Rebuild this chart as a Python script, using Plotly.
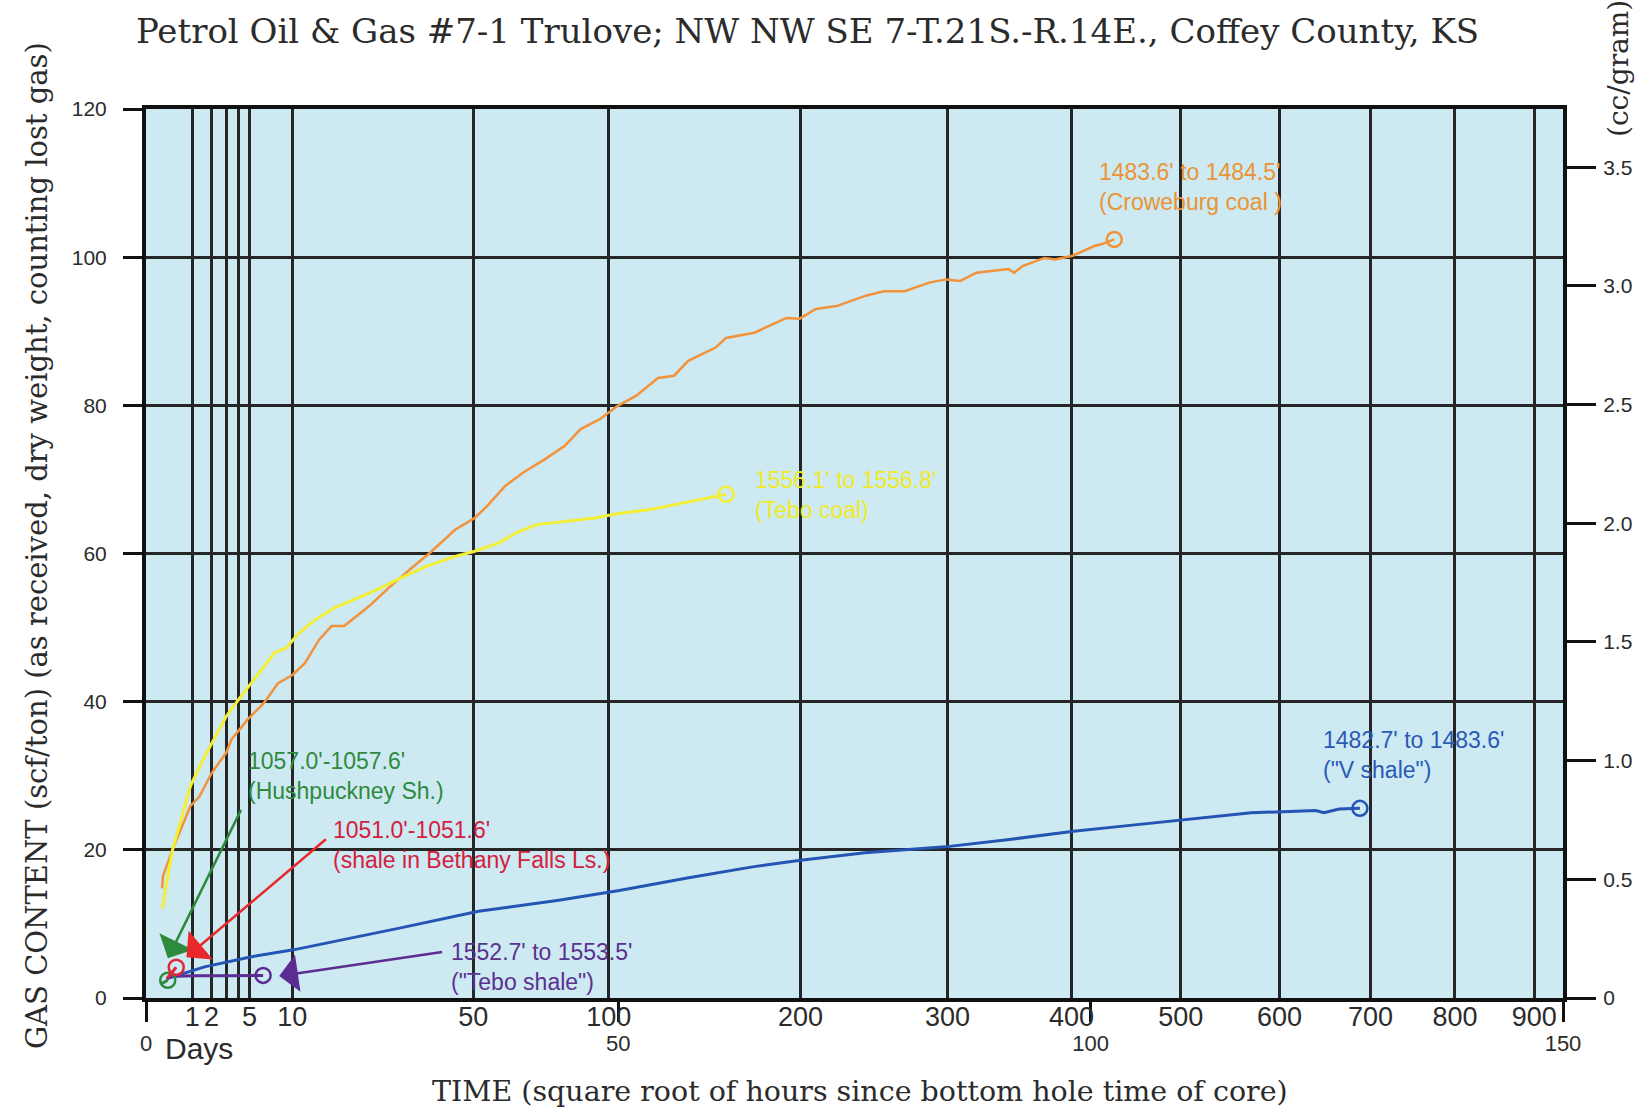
import math
import plotly.graph_objects as go

# unit conversion between the two gas-content scales
SCF_PER_TON_PER_CC_PER_G = 32.04

# x-axis: square root of hours, with a second row of labels in days
root_hour_ticks = [0, 50, 100, 150]
day_marks = [1, 2, 3, 4, 5, 10, 50, 100, 200, 300, 400, 500, 600, 700, 800, 900]
day_labels = ["1", "2", "", "", "5", "10", "50", "100", "200", "300", "400",
              "500", "600", "700", "800", "900"]

# y-axes
gas_ticks = [0, 20, 40, 60, 80, 100, 120]
cc_ticks = [0, 0.5, 1.0, 1.5, 2.0, 2.5, 3.0, 3.5]
cc_labels = ["0", "0.5", "1.0", "1.5", "2.0", "2.5", "3.0", "3.5"]

# 1483.6' to 1484.5' (Croweburg coal)
crow_x = [1.7, 1.8, 2.8, 4.7, 5.65, 6.97, 8.49, 9.05, 10.76, 12.46, 13.98, 15.5,
          16.82, 18.34, 19.65, 20.98, 23.63, 25.9, 28.17, 30.07, 32.72, 34.8, 36.1,
          38.0, 39.9, 42.2, 44.3, 46.0, 48.0, 49.9, 51.9, 54.2, 55.9, 57.4, 60.3,
          61.4, 64.4, 67.8, 69.2, 70.9, 73.1, 76.2, 78.1, 80.3, 83.0, 84.7, 86.2,
          87.9, 91.3, 91.9, 92.8, 95.1, 96.2, 98.1, 100.4, 101.3, 102.5]
crow_y = [14.8, 16.5, 20.0, 25.9, 27.2, 30.4, 33.1, 34.9, 37.6, 39.8, 42.5, 43.6,
          45.2, 48.4, 50.2, 50.2, 52.9, 55.6, 58.1, 60.1, 63.2, 64.8, 66.4,
          69.1, 70.9, 72.7, 74.5, 76.8, 78.1, 79.9, 81.3, 83.7, 84.0, 86.0, 87.8,
          89.1, 89.8, 91.8, 91.7, 93.0, 93.4, 94.8, 95.4, 95.4, 96.6, 97.0, 96.8,
          97.9, 98.4, 97.9, 98.8, 99.9, 99.7, 100.2, 101.5, 101.8, 102.4]

# 1556.1' to 1556.8' (Tebo coal)
tebo_coal_x = [1.75, 2.06, 2.81, 3.95, 4.71, 5.84, 6.97, 8.49, 9.81, 11.14, 13.6,
               14.9, 16.06, 17.95, 20.0, 22.1, 24.4, 27.0, 29.7, 32.7, 34.8, 37.3,
               39.5, 41.4, 44.8, 47.5, 50.0, 53.2, 56.0, 58.8, 61.4]
tebo_coal_y = [12.1, 14.6, 20.0, 25.0, 28.6, 31.7, 34.4, 38.0, 40.3, 42.5, 46.6,
               47.3, 49.1, 51.1, 52.7, 53.8, 55.1, 56.7, 58.3, 59.6, 60.3, 61.4,
               63.0, 63.9, 64.4, 64.8, 65.4, 65.9, 66.6, 67.3, 68.0]

# 1482.7' to 1483.6' ("V shale")
v_shale_x = [2.2, 2.4, 6.2, 11.3, 15.6, 20.7, 26.7, 35.2, 43.7, 50.1, 57.3, 64.2,
             69.3, 76.1, 84.6, 91.4, 98.2, 103.4, 110.2, 117.0, 123.8, 124.7,
             126.3, 128.5]
v_shale_y = [2.5, 2.7, 4.2, 5.6, 6.5, 7.8, 9.4, 11.7, 13.2, 14.5, 16.2, 17.7,
             18.6, 19.6, 20.4, 21.4, 22.5, 23.2, 24.1, 25.0, 25.3, 25.0, 25.5, 25.6]

# 1057.0'-1057.6' (Hushpuckney Sh.)
hush_x = [1.6, 2.0, 2.3]
hush_y = [1.9, 2.2, 2.4]

# 1051.0'-1051.6' (shale in Bethany Falls Ls.)
bethany_x = [2.2, 2.7, 3.2]
bethany_y = [2.6, 3.4, 4.15]

# 1552.7' to 1553.5' ("Tebo shale")
tebo_shale_x = [2.3, 5.0, 9.0, 12.4]
tebo_shale_y = [2.9, 3.0, 3.0, 3.05]

SANS = "Liberation Sans, Arial, sans-serif"
SERIF = "DejaVu Serif, serif"
INK = "#2b2b2b"
GRID = "#262626"

series = [
    (crow_x, crow_y, "#f2923a", 2.5),
    (tebo_coal_x, tebo_coal_y, "#f3ee36", 3),
    (v_shale_x, v_shale_y, "#2455b4", 3),
    (tebo_shale_x, tebo_shale_y, "#5b2c91", 3),
    (hush_x, hush_y, "#2e8a3c", 3),
    (bethany_x, bethany_y, "#e0283a", 3),
]

fig = go.Figure()
for xs, ys, color, width in series:
    fig.add_trace(go.Scatter(x=xs, y=ys, mode="lines",
                             line=dict(color=color, width=width),
                             showlegend=False, hoverinfo="skip"))
    fig.add_trace(go.Scatter(x=[xs[-1]], y=[ys[-1]], mode="markers",
                             marker=dict(symbol="circle-open", size=15,
                                         color=color, line=dict(width=2.5)),
                             showlegend=False, hoverinfo="skip"))

# invisible anchors so the day axis and the cc/gram axis are rendered
fig.add_trace(go.Scatter(x=[0], y=[0], xaxis="x2", yaxis="y", mode="markers",
                         marker=dict(opacity=0), showlegend=False, hoverinfo="skip"))
fig.add_trace(go.Scatter(x=[0], y=[0], xaxis="x", yaxis="y2", mode="markers",
                         marker=dict(opacity=0), showlegend=False, hoverinfo="skip"))

# sample labels: (x, y, text, color)
sample_labels = [
    (100.7, 109.5, "1483.6' to 1484.5'<br>(Croweburg coal )", "#ea9435"),
    (64.3, 67.9, "1556.1' to 1556.8'<br>(Tebo coal)", "#efe92c"),
    (124.4, 32.8, "1482.7' to 1483.6'<br>(\"V shale\")", "#2a5ab6"),
    (10.6, 29.9, "1057.0'-1057.6'<br>(Hushpuckney Sh.)", "#2f8a3e"),
    (19.6, 20.6, "1051.0'-1051.6'<br>(shale in Bethany Falls Ls.)", "#d4203e"),
    (32.1, 4.2, "1552.7' to 1553.5'<br>(\"Tebo shale\")", "#5b3190"),
]
for x, y, text, color in sample_labels:
    fig.add_annotation(x=x, y=y, xref="x", yref="y", text=text, showarrow=False,
                       xanchor="left", yanchor="middle", align="left",
                       font=dict(family=SANS, size=23, color=color))

# pointer arrows: (tail x, tail y, head x, head y, color)
pointer_arrows = [
    (10.14, 25.6, 2.32, 5.36, "#2e8a3c"),
    (19.2, 21.6, 4.28, 5.5, "#e8282a"),
    (31.5, 6.25, 14.1, 2.97, "#5b2c91"),
]
for tx, ty, hx, hy, color in pointer_arrows:
    fig.add_annotation(x=hx, y=hy, ax=tx, ay=ty, xref="x", yref="y",
                       axref="x", ayref="y", text="", showarrow=True,
                       arrowhead=1, arrowsize=2.5, arrowwidth=2.5,
                       arrowcolor=color, standoff=0)

# titles
fig.add_annotation(x=0.4665, y=1.0878, xref="paper", yref="paper",
                   text="Petrol Oil & Gas #7-1 Trulove; NW NW SE 7-T.21S.-R.14E., Coffey County, KS",
                   showarrow=False, xanchor="center", yanchor="middle",
                   font=dict(family=SERIF, size=34, color=INK))
fig.add_annotation(x=-0.0769, y=0.5084, xref="paper", yref="paper",
                   text="GAS CONTENT (scf/ton) (as received, dry weight, counting lost gas)",
                   textangle=-90, showarrow=False, xanchor="center", yanchor="middle",
                   font=dict(family=SERIF, size=29, color=INK))
fig.add_annotation(x=0.5039, y=-0.1057, xref="paper", yref="paper",
                   text="TIME (square root of hours since bottom hole time of core)",
                   showarrow=False, xanchor="center", yanchor="middle",
                   font=dict(family=SERIF, size=28.5, color=INK))
fig.add_annotation(x=1.0388, y=1.0461, xref="paper", yref="paper",
                   text="(cc/gram)", textangle=-90, showarrow=False,
                   xanchor="center", yanchor="middle",
                   font=dict(family=SERIF, size=28, color=INK))
fig.add_annotation(x=0.012, y=-0.0565, xref="paper", yref="paper",
                   text="Days", showarrow=False, xanchor="left", yanchor="middle",
                   font=dict(family=SANS, size=30, color=INK))

fig.update_layout(
    width=1648, height=1110,
    margin=dict(l=146, r=85, t=109, b=112),
    paper_bgcolor="white",
    plot_bgcolor="#cde9f1",
    xaxis=dict(range=[0, 150], tickvals=root_hour_ticks,
               ticktext=[str(v) for v in root_hour_ticks],
               ticks="outside", ticklen=20, tickwidth=2.5, tickcolor="#111",
               showgrid=False, zeroline=False, showline=True, linecolor="#111",
               linewidth=4, mirror=True, tickangle=0, ticklabelstandoff=3,
               tickfont=dict(family=SANS, size=22, color=INK)),
    xaxis2=dict(range=[0, 150], overlaying="x", anchor="y", side="bottom",
                tickvals=[math.sqrt(24 * d) for d in day_marks], ticktext=day_labels,
                ticks="", showgrid=True, gridcolor=GRID, gridwidth=2.5,
                zeroline=False, showline=False, tickangle=0, ticklabelstandoff=0,
                tickfont=dict(family=SANS, size=27, color=INK)),
    yaxis=dict(range=[0, 120], tickvals=gas_ticks, ticks="outside", ticklen=19,
               tickwidth=2.5, tickcolor="#111", showgrid=True, gridcolor=GRID,
               gridwidth=2.5, zeroline=False, showline=True, linecolor="#111",
               linewidth=4, mirror=True, ticklabelstandoff=12,
               tickfont=dict(family=SANS, size=21, color=INK)),
    yaxis2=dict(range=[0, 120 / SCF_PER_TON_PER_CC_PER_G], overlaying="y",
                anchor="x", side="right", tickvals=cc_ticks, ticktext=cc_labels,
                ticks="outside", ticklen=32, tickwidth=2.5, tickcolor="#111",
                showgrid=False, zeroline=False, showline=False,
                ticklabelstandoff=3,
                tickfont=dict(family=SANS, size=21, color=INK)),
)

fig.write_html("out.html")
